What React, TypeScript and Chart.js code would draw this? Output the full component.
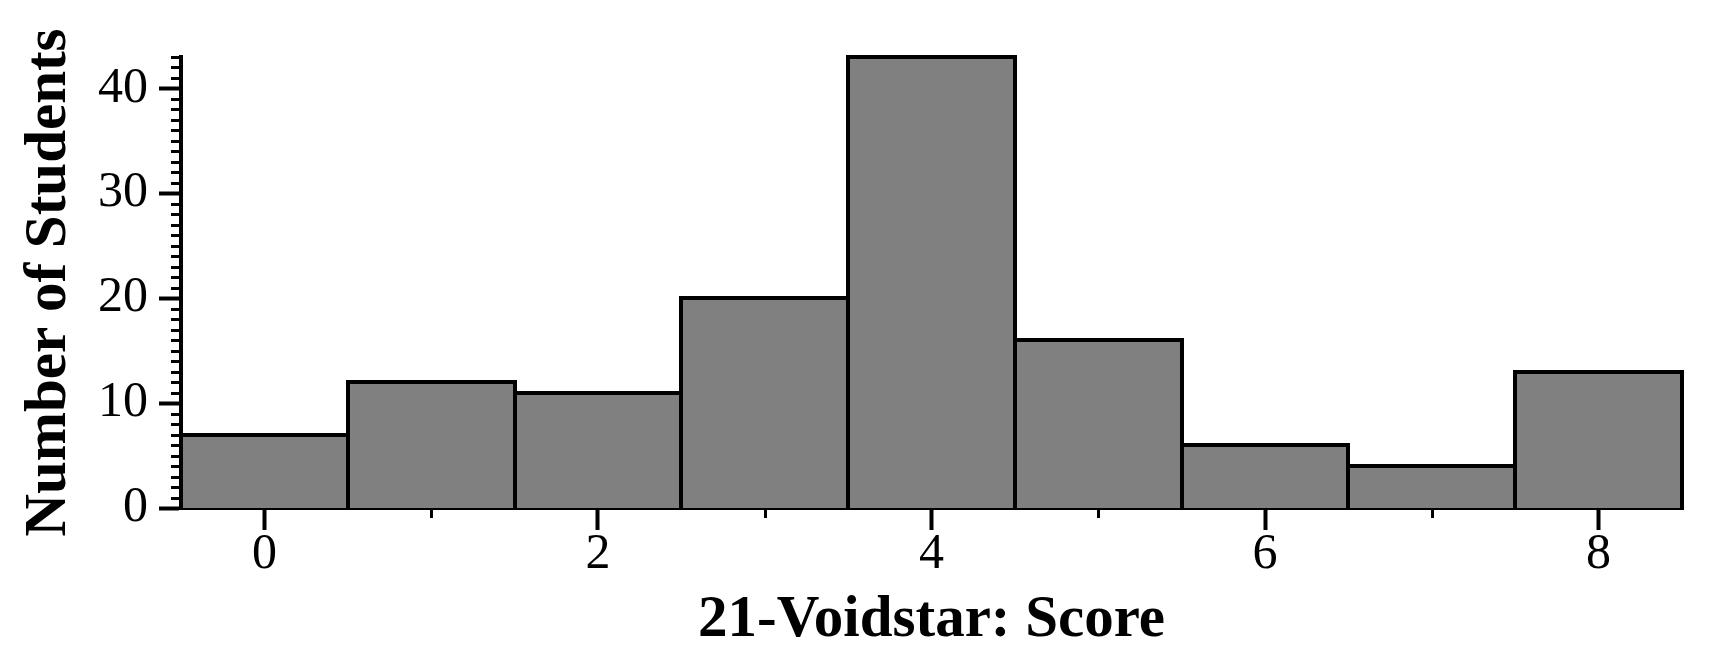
import React, { useEffect, useRef } from 'react';
import { Chart, registerables } from 'chart.js';

Chart.register(...registerables);

const scoreLabels: string[] = ['0', '1', '2', '3', '4', '5', '6', '7', '8'];
const studentCounts: number[] = [7, 12, 11, 20, 43, 16, 6, 4, 13];
const yMin = 0;
const yMax = 43;
const yMajorStep = 10;
const xTitle = '21-Voidstar: Score';
const yTitle = 'Number of Students';

const W = 1720;
const H = 670;
const LINE = 4;
const SERIF = "'Liberation Serif', 'Times New Roman', Times, serif";

const barOutlines = {
  id: 'barOutlines',
  afterDatasetsDraw(chart: any) {
    const { ctx } = chart;
    const meta = chart.getDatasetMeta(0);
    ctx.save();
    ctx.strokeStyle = '#000';
    ctx.lineWidth = LINE;
    ctx.lineJoin = 'miter';
    ctx.lineCap = 'square';
    meta.data.forEach((el: any) => {
      const { x, y, base, width } = el.getProps(['x', 'y', 'base', 'width'], true);
      const l = Math.round(x - width / 2);
      const r = Math.round(x + width / 2);
      const t = Math.round(y);
      const b = Math.round(base);
      ctx.beginPath();
      ctx.moveTo(l, b);
      ctx.lineTo(l, t);
      ctx.lineTo(r, t);
      ctx.lineTo(r, b);
      ctx.stroke();
    });
    ctx.restore();
  },
};

const minorTicks = {
  id: 'minorTicks',
  afterDraw(chart: any) {
    const { ctx, chartArea } = chart;
    const ys = chart.scales.y;
    const xs = chart.scales.x;
    ctx.save();
    ctx.strokeStyle = '#000';
    ctx.lineWidth = 3;
    ctx.lineCap = 'butt';
    ctx.beginPath();
    for (let v = yMin + 1; v <= yMax; v++) {
      if (v % yMajorStep === 0) continue;
      const py = Math.round(ys.getPixelForValue(v)) + 0.5;
      ctx.moveTo(chartArea.left - 10, py);
      ctx.lineTo(chartArea.left, py);
    }
    for (let i = 1; i < scoreLabels.length; i += 2) {
      const px = Math.round(xs.getPixelForValue(i)) + 0.5;
      ctx.moveTo(px, chartArea.bottom);
      ctx.lineTo(px, chartArea.bottom + 10);
    }
    ctx.stroke();
    ctx.restore();
  },
};

function zeroPad(s: any) {
  s.paddingLeft = 0;
  s.paddingRight = 0;
  s.paddingTop = 0;
  s.paddingBottom = 0;
}

export default function App() {
  const ref = useRef<HTMLCanvasElement | null>(null);

  useEffect(() => {
    if (!ref.current) return;
    const chart = new Chart(ref.current, {
      type: 'bar',
      data: {
        labels: scoreLabels,
        datasets: [
          {
            data: studentCounts,
            backgroundColor: '#808080',
            borderWidth: 0,
            inflateAmount: 0.5,
            barPercentage: 1,
            categoryPercentage: 1,
          } as any,
        ],
      },
      options: {
        responsive: false,
        animation: false,
        devicePixelRatio: 1,
        layout: { padding: { left: 0, top: 57, right: 38, bottom: 0 } },
        plugins: {
          legend: { display: false },
          tooltip: { enabled: false },
        },
        scales: {
          x: {
            type: 'category',
            offset: true,
            grid: {
              display: true,
              offset: false,
              drawOnChartArea: false,
              drawTicks: true,
              tickLength: 22,
              tickWidth: LINE,
              tickColor: (c: any) => (c.index % 2 === 0 ? '#000' : 'rgba(0,0,0,0)'),
            },
            border: { display: true, color: '#000', width: LINE },
            ticks: {
              color: '#000',
              autoSkip: false,
              maxRotation: 0,
              padding: 0,
              font: { family: SERIF, size: 50, lineHeight: 1 },
              callback: function (this: any, v: any, i: number) {
                return i % 2 === 0 ? this.getLabelForValue(v) : '';
              },
            },
            title: {
              display: true,
              text: xTitle,
              color: '#000',
              font: { family: SERIF, size: 59, weight: 'bold', lineHeight: 1.2 },
              padding: { top: 0, bottom: 14 },
            },
            afterFit: (s: any) => {
              s.height = 162;
              zeroPad(s);
            },
          },
          y: {
            type: 'linear',
            min: yMin,
            max: yMax,
            grid: {
              display: true,
              drawOnChartArea: false,
              drawTicks: true,
              tickLength: 22,
              tickWidth: LINE,
              tickColor: '#000',
            },
            border: { display: true, color: '#000', width: LINE },
            ticks: {
              stepSize: yMajorStep,
              includeBounds: false,
              color: '#000',
              padding: 11,
              font: { family: SERIF, size: 50, lineHeight: 1 },
            },
            title: {
              display: true,
              text: yTitle,
              color: '#000',
              font: { family: SERIF, size: 59, weight: 'bold', lineHeight: 1.2 },
              padding: { top: 14, bottom: 0 },
            },
            afterFit: (s: any) => {
              s.width = 181;
              zeroPad(s);
            },
          },
        },
      } as any,
      plugins: [barOutlines, minorTicks],
    });
    return () => chart.destroy();
  }, []);

  return (
    <div style={{ position: 'absolute', left: 0, top: 0, width: W, height: H, background: '#fff' }}>
      <canvas ref={ref} width={W} height={H} style={{ display: 'block', width: W, height: H }} />
    </div>
  );
}
